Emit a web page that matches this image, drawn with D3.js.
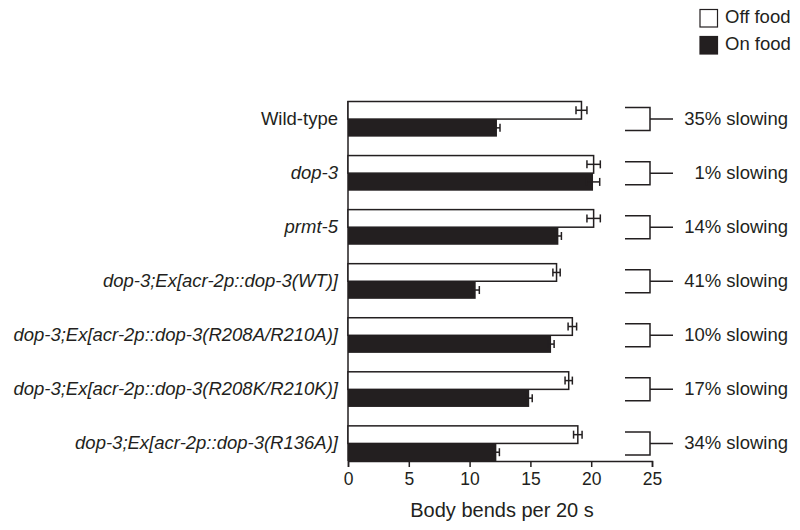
<!DOCTYPE html>
<html><head><meta charset="utf-8">
<script src="https://cdn.jsdelivr.net/npm/d3@7/dist/d3.min.js"></script>
<style>body{margin:0;background:#fff}svg{display:block}</style>
</head><body>
<script>
const categories = ["Wild-type","dop-3","prmt-5","dop-3;Ex[acr-2p::dop-3(WT)]","dop-3;Ex[acr-2p::dop-3(R208A/R210A)]","dop-3;Ex[acr-2p::dop-3(R208K/R210K)]","dop-3;Ex[acr-2p::dop-3(R136A)]"];
const italic = [false,true,true,true,true,true,true];
const offFood = [19.2,20.2,20.2,17.15,18.45,18.15,18.9];
const offErr  = [0.45,0.55,0.55,0.3,0.35,0.3,0.35];
const onFood  = [12.25,20.15,17.3,10.5,16.7,14.9,12.2];
const onErr   = [0.25,0.55,0.25,0.3,0.25,0.25,0.25];
const slowing = ["35% slowing","1% slowing","14% slowing","41% slowing","10% slowing","17% slowing","34% slowing"];
const xTicks = [0,5,10,15,20,25];
const series = ["Off food","On food"];

const W=800,H=530;
const svg=d3.select("body").append("svg").attr("width",W).attr("height",H)
  .style("font-family","'Liberation Sans', Arial, sans-serif");
const x=d3.scaleLinear().domain([0,25]).range([348,652]);
const y=d3.scaleBand().domain(categories).range([101.5,461]).paddingInner(0.35).paddingOuter(0);
const ys=d3.scaleBand().domain(series).range([0,y.bandwidth()]);
const ink="#231f20";

// axes
const xa=svg.append("g").attr("transform","translate(0,461)")
  .call(d3.axisBottom(x).tickValues(xTicks).tickSize(6).tickPadding(6).tickFormat(d3.format("d")));
xa.select(".domain").attr("stroke",ink).attr("stroke-width",1.5);
xa.selectAll(".tick line").attr("stroke",ink).attr("stroke-width",1.5);
xa.selectAll(".tick text").attr("font-size",17.5).attr("fill",ink);
svg.append("line").attr("x1",348).attr("x2",348).attr("y1",101).attr("y2",461).attr("stroke",ink).attr("stroke-width",1.5);

svg.append("text").attr("x",x(12.5)+2).attr("y",517).attr("text-anchor","middle")
  .attr("font-size",20).attr("fill",ink).text("Body bends per 20 s");

// labels
svg.selectAll(".cat").data(categories).join("text")
  .attr("x",338).attr("y",d=>y(d)+y.bandwidth()/2-1).attr("dy","0.35em")
  .attr("text-anchor","end").attr("font-size",18.5).attr("fill",ink)
  .attr("font-style",(d,i)=>italic[i]?"italic":"normal").text(d=>d);

// bars
const data=categories.map((c,i)=>({c,i,off:offFood[i],offE:offErr[i],on:onFood[i],onE:onErr[i]}));
function errbar(g,yc,v,e){
  g.append("line").attr("x1",x(v-e)).attr("x2",x(v+e)).attr("y1",yc).attr("y2",yc).attr("stroke",ink).attr("stroke-width",1.5);
  [v-e,v+e].forEach(t=>g.append("line").attr("x1",x(t)).attr("x2",x(t)).attr("y1",yc-4).attr("y2",yc+4).attr("stroke",ink).attr("stroke-width",1.5));
}
data.forEach(d=>{
  const g=svg.append("g");
  const y0=y(d.c);
  g.append("rect").attr("x",x(0)).attr("y",y0+ys("Off food")).attr("width",x(d.off)-x(0)).attr("height",ys.bandwidth())
    .attr("fill","#fff").attr("stroke",ink).attr("stroke-width",1.5);
  errbar(g,y0+ys("Off food")+ys.bandwidth()/2,d.off,d.offE);
  g.append("rect").attr("x",x(0)).attr("y",y0+ys("On food")).attr("width",x(d.on)-x(0)).attr("height",ys.bandwidth())
    .attr("fill",ink);
  errbar(g,y0+ys("On food")+ys.bandwidth()/2,d.on,d.onE);
  // bracket
  const yc=y0+y.bandwidth()/2, h=11.5;
  g.append("path").attr("d",`M625,${yc-h}H650V${yc+h}H625M650,${yc}H673`).attr("fill","none").attr("stroke",ink).attr("stroke-width",1.5);
  g.append("text").attr("x",788).attr("y",yc-1).attr("dy","0.35em").attr("text-anchor","end")
    .attr("font-size",18.5).attr("fill",ink).text(slowing[d.i]);
});

// legend
const lg=svg.append("g");
series.forEach((s,i)=>{
  lg.append("rect").attr("x",700).attr("y",9.5+i*27).attr("width",17.5).attr("height",17.5)
    .attr("fill",i?ink:"#fff").attr("stroke",ink).attr("stroke-width",1.2);
  lg.append("text").attr("x",725).attr("y",17+i*27).attr("dy","0.35em").attr("font-size",18.5).attr("fill",ink).text(s);
});
</script>
</body></html>
